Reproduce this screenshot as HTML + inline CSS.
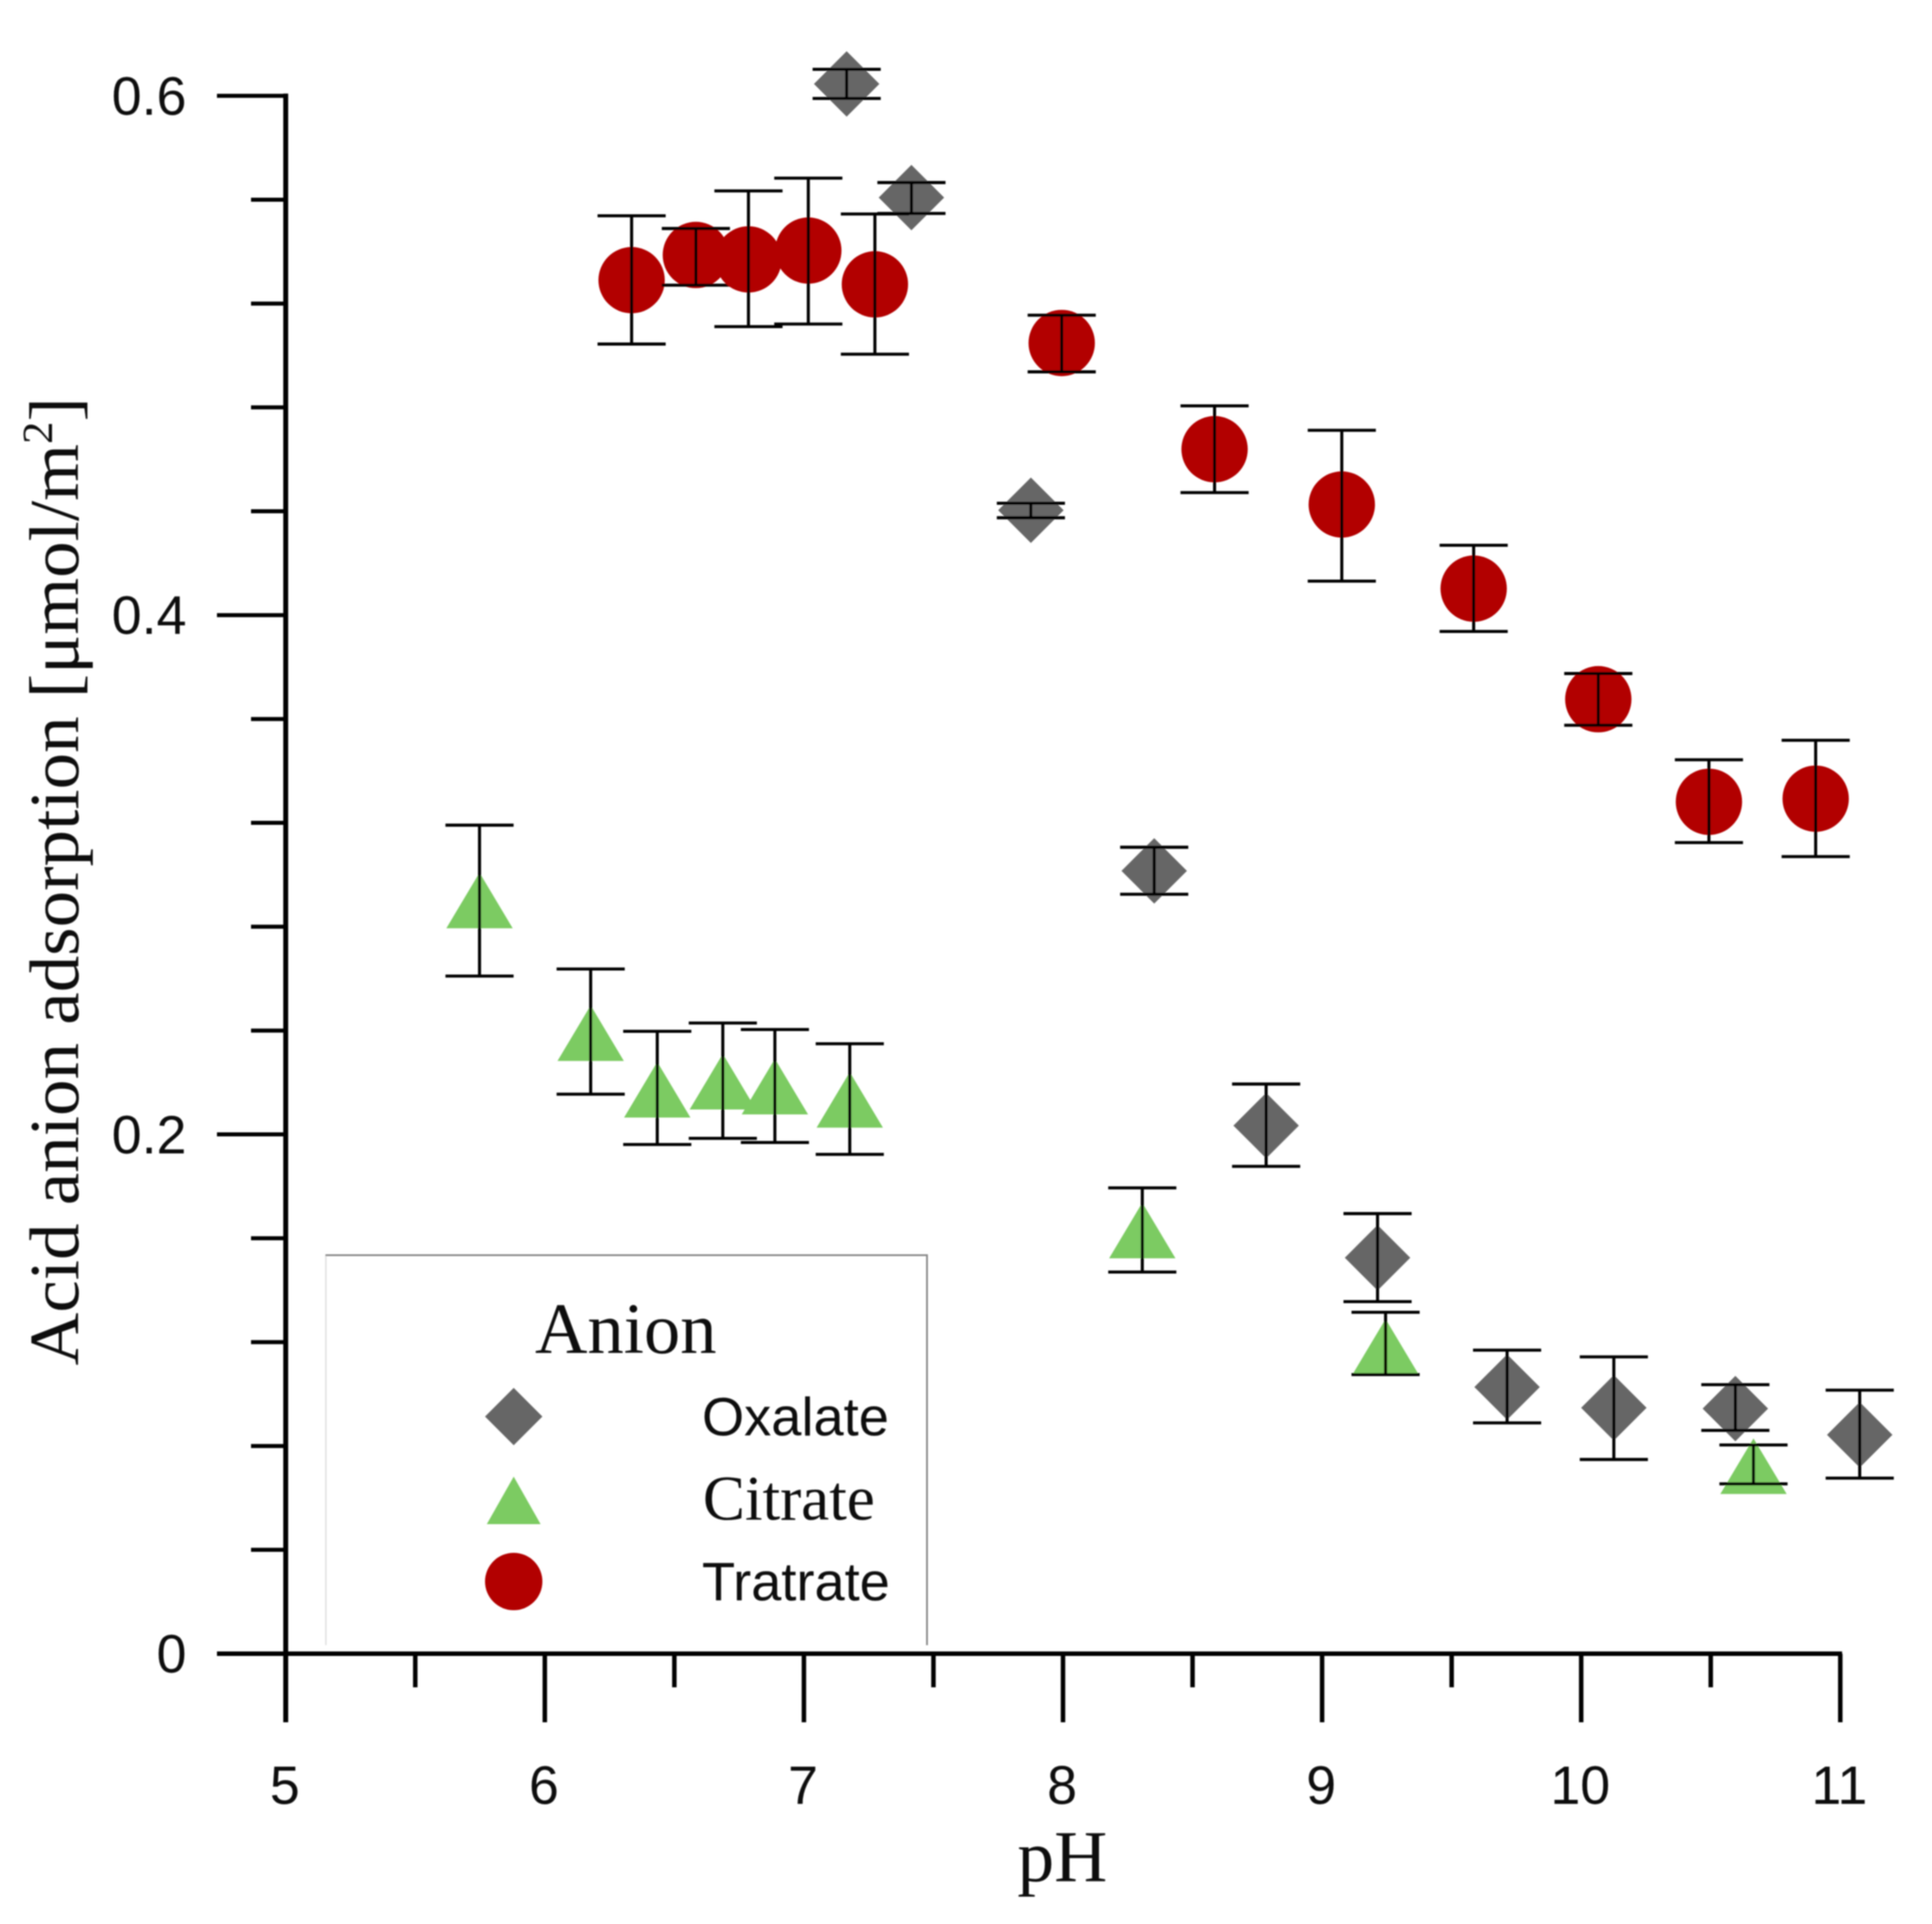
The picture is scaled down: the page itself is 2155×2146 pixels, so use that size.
<!DOCTYPE html>
<html lang="en">
<head>
<meta charset="utf-8">
<title>Acid anion adsorption vs pH</title>
<style>
  html, body { margin: 0; padding: 0; background: #fff; }
  body { width: 2155px; height: 2146px; overflow: hidden; }
  svg { display: block; }
  .sans { font-family: "Liberation Sans", sans-serif; fill: #0a0a0a; }
  .serif { font-family: "Liberation Serif", serif; fill: #0a0a0a; }
</style>
</head>
<body>
<svg id="chart" xmlns="http://www.w3.org/2000/svg" width="2155" height="2146" viewBox="0 0 2155 2146">
  <defs>
    <filter id="soft" x="-2%" y="-2%" width="104%" height="104%"><feGaussianBlur stdDeviation="0.9"/></filter>
  </defs>
  <g id="root" filter="url(#soft)">
    <g id="legend">
      <path d="M363.5 1400V1835" fill="none" stroke="#ddd" stroke-width="1.5"/>
      <path d="M363 1400H1034V1835" fill="none" stroke="#888" stroke-width="2"/>
      <text class="serif" x="698" y="1509" font-size="81" text-anchor="middle">Anion</text>
      <polygon points="573,1548 605,1580 573,1612 541,1580" fill="#666"/>
      <text class="sans" x="783" y="1601" font-size="60.5">Oxalate</text>
      <polygon points="573,1647 603,1700 543,1700" fill="#7ccb62"/>
      <text class="serif" x="784" y="1695" font-size="70.5">Citrate</text>
      <circle cx="573" cy="1764" r="32" fill="#b20000"/>
      <text class="sans" x="783" y="1785" font-size="60.5">Tratrate</text>
    </g>
    <g id="axes"></g>
    <g id="series-oxalate"></g>
    <g id="series-citrate"></g>
    <g id="series-tartrate"></g>
    <text class="serif" x="1185" y="2098" font-size="82" text-anchor="middle">pH</text>
    <text class="serif" transform="translate(87 1523) rotate(-90)" font-size="78" textLength="1080" lengthAdjust="spacingAndGlyphs">Acid anion adsorption [μmol/m<tspan font-size="48" dy="-29">2</tspan><tspan dy="29">]</tspan></text>
  </g>
</svg>
<script>
const xMajorTicks = [5, 6, 7, 8, 9, 10, 11];
const xMinorTicks = [5.5, 6.5, 7.5, 8.5, 9.5, 10.5];
const yMajorTicks = [0, 0.2, 0.4, 0.6];
const yMinorTicks = [0.04, 0.08, 0.12, 0.16, 0.24, 0.28, 0.32, 0.36, 0.44, 0.48, 0.52, 0.56];

const oxalatePH = [7.165, 7.415, 7.876, 8.352, 8.784, 9.214, 9.714, 10.126, 10.595, 11.075];
const oxalateValue = [0.6046, 0.5608, 0.4404, 0.3015, 0.2034, 0.1525, 0.1027, 0.0947, 0.0944, 0.0843];
const oxalateHigh = [0.6102, 0.5666, 0.4431, 0.3106, 0.2194, 0.1695, 0.1169, 0.1143, 0.1036, 0.1015];
const oxalateLow = [0.599, 0.5547, 0.4375, 0.2925, 0.1877, 0.1356, 0.0889, 0.0748, 0.086, 0.0676];

const citratePH = [5.748, 6.177, 6.434, 6.687, 6.888, 7.177, 8.306, 9.245, 10.665];
const citrateValue = [0.2901, 0.239, 0.2172, 0.2203, 0.2184, 0.2133, 0.163, 0.1182, 0.0722];
const citrateHigh = [0.3191, 0.2637, 0.2397, 0.2429, 0.2404, 0.2349, 0.1794, 0.1315, 0.0804];
const citrateLow = [0.261, 0.2155, 0.1961, 0.1985, 0.1969, 0.1923, 0.147, 0.1075, 0.0654];

const tartratePH = [6.335, 6.583, 6.786, 7.017, 7.274, 7.995, 8.585, 9.076, 9.585, 10.066, 10.493, 10.905];
const tartrateValue = [0.529, 0.5387, 0.537, 0.5404, 0.5274, 0.5048, 0.4639, 0.4426, 0.4102, 0.3676, 0.3281, 0.3293];
const tartrateHigh = [0.5538, 0.5489, 0.5634, 0.5683, 0.5545, 0.5155, 0.4806, 0.4712, 0.4269, 0.3775, 0.3443, 0.3518];
const tartrateLow = [0.5044, 0.5271, 0.5111, 0.5121, 0.5005, 0.4937, 0.4472, 0.4131, 0.3937, 0.3576, 0.3124, 0.307];

const NS = 'http://www.w3.org/2000/svg';
const xScale = function (v) { return 318.7 + (v - 5) * 289; };
const yScale = function (v) { return 1844.5 - v * 2896; };

function shape(parent, tag, props) {
  const el = document.createElementNS(NS, tag);
  Object.keys(props).forEach(function (k) { el.setAttribute(k, props[k]); });
  parent.appendChild(el);
  return el;
}

const axes = document.getElementById('axes');
const axisStyle = { stroke: '#000', fill: 'none' };

const yLine = shape(axes, 'line', Object.assign({ x1: xScale(5), x2: xScale(5), y1: yScale(0.6) - 2.5, y2: 1921, 'stroke-width': 5.5 }, axisStyle));


const xLine = shape(axes, 'line', Object.assign({ x1: 242, x2: xScale(11) + 2, y1: yScale(0), y2: yScale(0), 'stroke-width': 5 }, axisStyle));



xMajorTicks.forEach(function (t) {
  const tick = shape(axes, 'line', Object.assign({ x1: xScale(t), x2: xScale(t), y1: yScale(0), y2: 1921, 'stroke-width': 5 }, axisStyle));
  
  
  const label = shape(axes, 'text', { x: xScale(t) - 1, y: 2012, 'font-size': 60, 'text-anchor': 'middle', class: 'sans' });
  label.textContent = String(t);
  
  
});
xMinorTicks.forEach(function (t) {
  const tick = shape(axes, 'line', Object.assign({ x1: xScale(t), x2: xScale(t), y1: yScale(0), y2: 1882, 'stroke-width': 5 }, axisStyle));
  
  
});
yMajorTicks.forEach(function (t) {
  const tick = shape(axes, 'line', Object.assign({ x1: 242, x2: xScale(5), y1: yScale(t), y2: yScale(t), 'stroke-width': 4.5 }, axisStyle));
  
  
  const label = shape(axes, 'text', { x: 208, y: yScale(t) + 21, 'font-size': 60, 'text-anchor': 'end', class: 'sans' });
  label.textContent = String(t);
  
  
});
yMinorTicks.forEach(function (t) {
  const tick = shape(axes, 'line', Object.assign({ x1: 280, x2: xScale(5), y1: yScale(t), y2: yScale(t), 'stroke-width': 4.5 }, axisStyle));
  
  
});

function drawErrorBar(group, px, hi, lo) {
  const capHalf = 38;
  const stem = shape(group, 'line', { x1: px, x2: px, y1: hi, y2: lo, stroke: '#000', 'stroke-width': 3.4 });
  
  
  const top = shape(group, 'line', { x1: px - capHalf, x2: px + capHalf, y1: hi, y2: hi, stroke: '#000', 'stroke-width': 3.4 });
  
  
  const bottom = shape(group, 'line', { x1: px - capHalf, x2: px + capHalf, y1: lo, y2: lo, stroke: '#000', 'stroke-width': 3.4 });
  
  
}

const oxalateGroup = document.getElementById('series-oxalate');
oxalatePH.forEach(function (ph, i) {
  const px = xScale(ph), py = yScale(oxalateValue[i]), r = 36.5;
  const mark = shape(oxalateGroup, 'polygon', {
    points: [px, py - r, px + r, py, px, py + r, px - r, py].join(' '),
    fill: '#666'
  });
  
  
  drawErrorBar(oxalateGroup, px, yScale(oxalateHigh[i]), yScale(oxalateLow[i]));
});

const citrateGroup = document.getElementById('series-citrate');
citratePH.forEach(function (ph, i) {
  const px = xScale(ph), py = yScale(citrateValue[i]), w = 37, h = 31;
  const mark = shape(citrateGroup, 'polygon', {
    points: [px, py - h, px + w, py + h, px - w, py + h].join(' '),
    fill: '#7ccb62'
  });
  
  
  drawErrorBar(citrateGroup, px, yScale(citrateHigh[i]), yScale(citrateLow[i]));
});

const tartrateGroup = document.getElementById('series-tartrate');
tartratePH.forEach(function (ph, i) {
  const px = xScale(ph), py = yScale(tartrateValue[i]);
  const mark = shape(tartrateGroup, 'circle', { cx: px, cy: py, r: 37, fill: '#b20000' });
  
  
  drawErrorBar(tartrateGroup, px, yScale(tartrateHigh[i]), yScale(tartrateLow[i]));
});
</script>
</body>
</html>
